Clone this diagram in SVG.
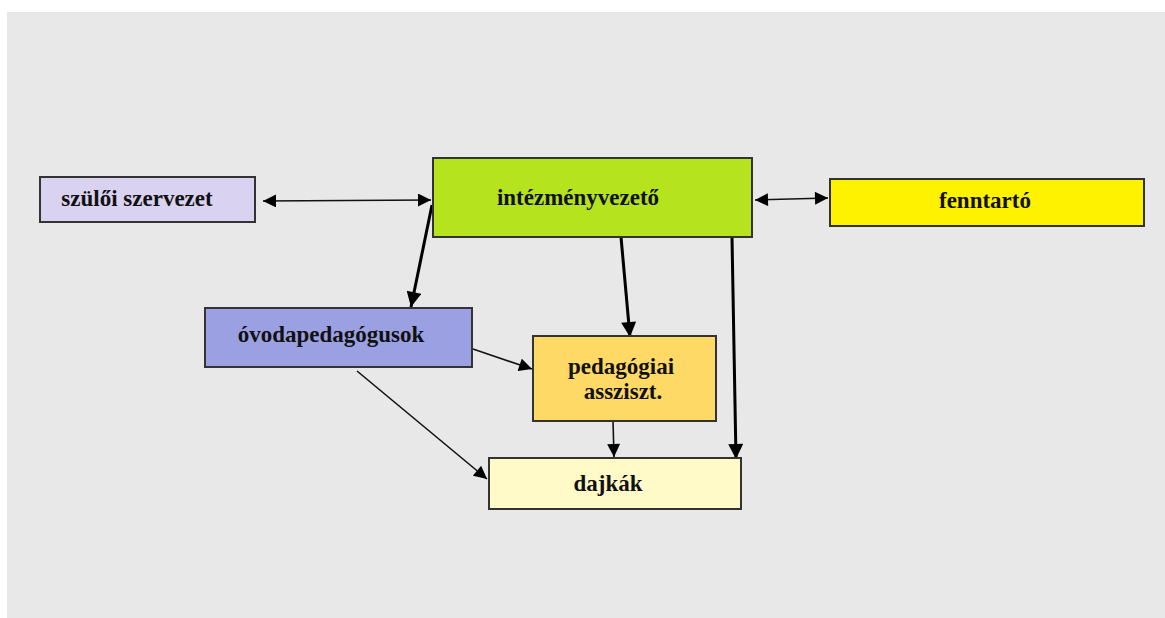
<svg xmlns="http://www.w3.org/2000/svg" width="1165" height="618" viewBox="0 0 1165 618">
<style>
.box{stroke:#333;stroke-width:2}
.t{font-family:"Liberation Serif","Times New Roman",serif;font-weight:bold;font-size:23px;fill:#111;text-anchor:middle}
.thin{stroke:#111;stroke-width:1.6;fill:none}
.thick{stroke:#000;stroke-width:3;fill:none}
</style>
<defs>
<marker id="ahb" viewBox="0 0 10 10" refX="10" refY="5" markerWidth="15" markerHeight="13" markerUnits="userSpaceOnUse" orient="auto-start-reverse">
<path d="M0,0 L10,5 L0,10 z" fill="#000"/>
</marker>
<marker id="aht" viewBox="0 0 10 10" refX="10" refY="5" markerWidth="16" markerHeight="15" markerUnits="userSpaceOnUse" orient="auto">
<path d="M0,0 L10,5 L0,10 z" fill="#000"/>
</marker>
</defs>
<rect x="7" y="12" width="1158" height="606" fill="#e8e8e8"/>
<g id="connectors">
<line class="thin" x1="263" y1="201" x2="431" y2="200" marker-start="url(#ahb)" marker-end="url(#ahb)"/>
<line class="thin" x1="755" y1="200" x2="828" y2="198" marker-start="url(#ahb)" marker-end="url(#ahb)"/>
<line class="thick" x1="432" y1="205" x2="411" y2="307" marker-end="url(#aht)"/>
<line class="thick" x1="621" y1="237" x2="630" y2="337" marker-end="url(#aht)"/>
<line class="thick" x1="732" y1="237" x2="736" y2="459" marker-end="url(#aht)"/>
<line class="thin" x1="473" y1="349" x2="532" y2="369" marker-end="url(#ahb)"/>
<line class="thin" x1="357" y1="371" x2="487" y2="479" marker-end="url(#ahb)"/>
<line class="thin" x1="613" y1="421" x2="614" y2="457" marker-end="url(#ahb)"/>
</g>
<g id="szuloi">
<rect class="box" x="40" y="177" width="215" height="45" fill="#d9d2f0"/>
<text class="t" x="137" y="206">szülői szervezet</text>
</g>
<g id="intezmenyvezeto">
<rect class="box" x="433" y="158" width="319" height="79" fill="#b5e41f"/>
<text class="t" x="578" y="205">intézményvezető</text>
</g>
<g id="fenntarto">
<rect class="box" x="830" y="179" width="314" height="47" fill="#fff200"/>
<text class="t" x="985" y="208">fenntartó</text>
</g>
<g id="ovodapedagogusok">
<rect class="box" x="205" y="308" width="267" height="59" fill="#9ba0e3"/>
<text class="t" x="331" y="342">óvodapedagógusok</text>
</g>
<g id="pedagogiai">
<rect class="box" x="533" y="336" width="183" height="85" fill="#ffd966"/>
<text class="t" x="621" y="374">pedagógiai</text>
<text class="t" x="623" y="399">assziszt.</text>
</g>
<g id="dajkak">
<rect class="box" x="489" y="458" width="252" height="51" fill="#fffac8"/>
<text class="t" x="608" y="491">dajkák</text>
</g>
</svg>
